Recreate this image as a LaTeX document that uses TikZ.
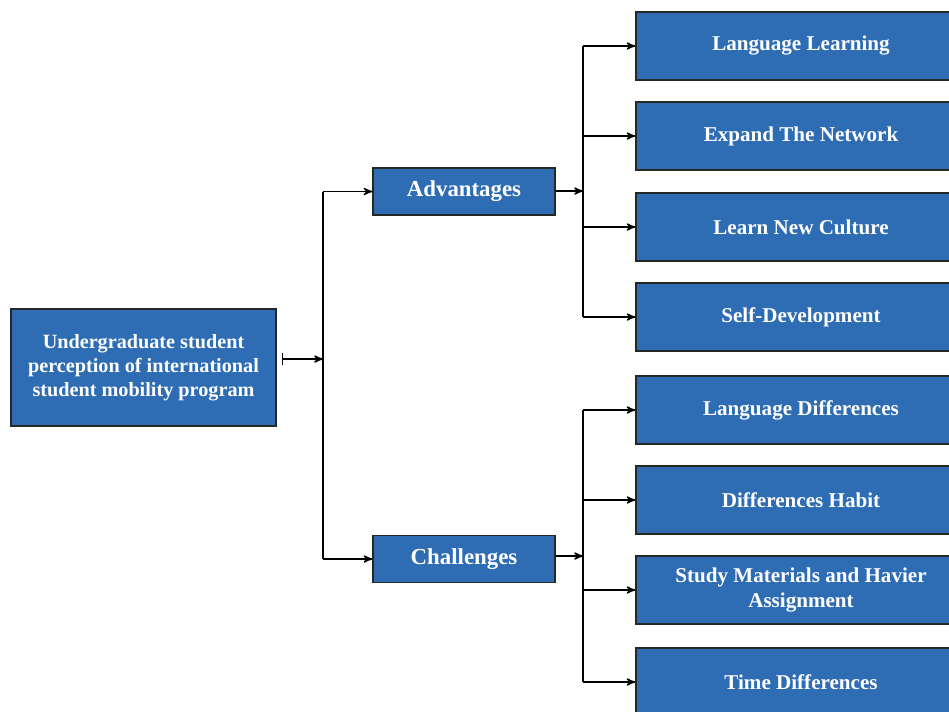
\documentclass[tikz,border=0pt]{standalone}
\usepackage{fontspec}
\setmainfont{Liberation Serif}
\usetikzlibrary{arrows,positioning}
\definecolor{boxblue}{RGB}{46,109,180}
\tikzset{
    %Define standard arrow tip
    >=stealth',
    %Define style for boxes
    rootbox/.style={
           rectangle,
           draw=black!85, line width=0.8pt,
           fill=boxblue,
           text=white,
           minimum width=5.3cm,
           minimum height=2.34cm,
           font=\fontsize{11.5}{13.6}\selectfont\bfseries,
           align=center},
    groupbox/.style={
           rectangle,
           draw=black!85, line width=0.8pt,
           fill=boxblue,
           text=white,
           minimum width=3.64cm,
           minimum height=0.94cm,
           font=\fontsize{13}{15}\selectfont\bfseries,
           align=center},
    itembox/.style={
           rectangle,
           draw=black!85, line width=0.8pt,
           fill=boxblue,
           text=white,
           minimum width=6.6cm,
           minimum height=1.36cm,
           font=\fontsize{12}{14.7}\selectfont\bfseries,
           align=center},
    % Define arrow style
    pil/.style={
           ->,
           line width=0.8pt}
}
\begin{document}
\begin{tikzpicture}[x=0.02cm,y=-0.02cm]
\useasboundingbox (0,0) rectangle (949,711);
\clip (0,0) rectangle (949,711);

 %nodes
\node[rootbox] (root) at (143.5,367.5) {Undergraduate student\\perception of international\\student mobility program};
\node[groupbox] (adv) at (464,191.5) {Advantages};
\node[groupbox] (chal) at (464,559) {Challenges};

\node[itembox] (lang) at (801,46) {Language Learning};
\node[itembox] (net) at (801,136) {Expand The Network};
\node[itembox] (cult) at (801,227) {Learn New Culture};
\node[itembox] (self) at (801,317) {Self-Development};
\node[itembox] (langdiff) at (801,410) {Language Differences};
\node[itembox] (habit) at (801,500) {Differences Habit};
\node[itembox] (study) at (801,590) {Study Materials and Havier\\Assignment};
\node[itembox] (time) at (801,682) {Time Differences};

 %junctions
\coordinate (jroot) at (323,359);
\coordinate (jadv) at (583,191);
\coordinate (jchal) at (583,556);

 %connectors
\draw[pil, |->, shorten <=0.1cm] (root.east |- jroot) -- (jroot);
\draw[line width=0.8pt] (jroot |- adv) -- (jroot |- chal);
\draw[pil] (jroot |- adv) -- (adv);
\draw[pil] (jroot |- chal) -- (chal);

\draw[pil] (adv.east |- jadv) -- (jadv);
\draw[line width=0.8pt] (jadv |- lang) -- (jadv |- self);
\foreach \t in {lang,net,cult,self}
  \draw[pil] (jadv |- \t) -- (\t);

\draw[pil] (chal.east |- jchal) -- (jchal);
\draw[line width=0.8pt] (jchal |- langdiff) -- (jchal |- time);
\foreach \t in {langdiff,habit,study,time}
  \draw[pil] (jchal |- \t) -- (\t);

\end{tikzpicture}
\end{document}
